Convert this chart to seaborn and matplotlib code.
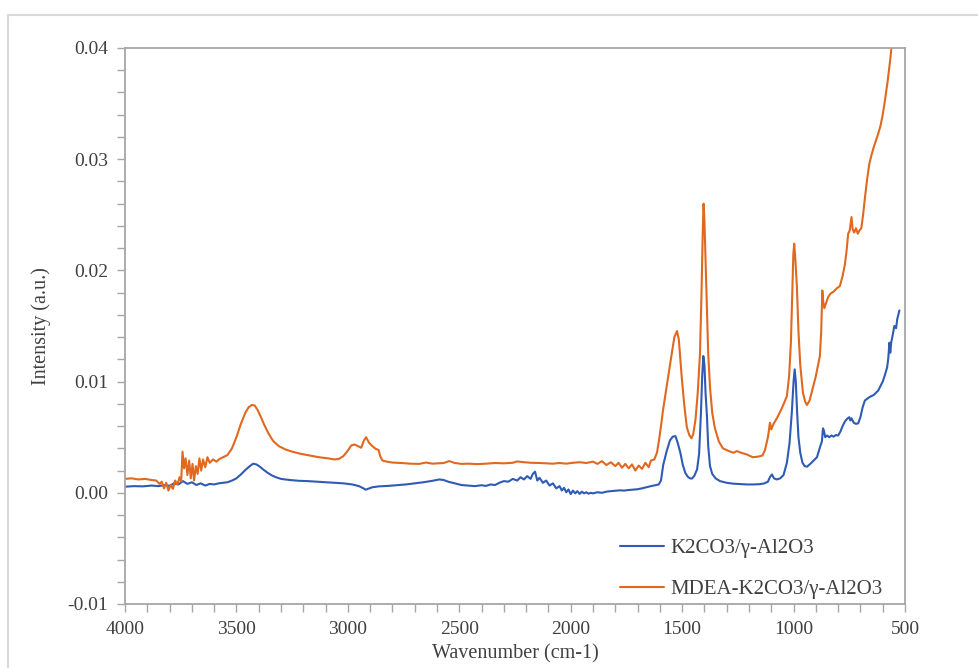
import pandas as pd
import seaborn as sns
import matplotlib
matplotlib.use("Agg")
import matplotlib.pyplot as plt
from matplotlib.patches import Rectangle
from matplotlib.ticker import MultipleLocator, FormatStrFormatter

# FTIR spectra: (wavenumber cm-1, intensity a.u.)
series_names = ["K2CO3/γ-Al2O3", "MDEA-K2CO3/γ-Al2O3"]
series_colors = ["#2F5BB5", "#E0691F"]

k2co3_spectrum = [
    (4000, 0.00055), (3960, 0.00060), (3920, 0.00058), (3880, 0.00065), (3850, 0.00060),
    (3820, 0.00070), (3800, 0.00062), (3780, 0.00085), (3760, 0.00075), (3740, 0.00105),
    (3720, 0.00080), (3700, 0.00095), (3680, 0.00070), (3660, 0.00085), (3640, 0.00065),
    (3620, 0.00080), (3600, 0.00075), (3580, 0.00085), (3560, 0.00090), (3540, 0.00095),
    (3520, 0.00110), (3500, 0.00130), (3480, 0.00165), (3460, 0.00205), (3440, 0.00240),
    (3425, 0.00262), (3410, 0.00255), (3395, 0.00235), (3380, 0.00210), (3360, 0.00180),
    (3340, 0.00155), (3320, 0.00138), (3300, 0.00125), (3260, 0.00115), (3220, 0.00108),
    (3180, 0.00105), (3140, 0.00100), (3100, 0.00095), (3060, 0.00090), (3020, 0.00085),
    (2980, 0.00075), (2950, 0.00060), (2930, 0.00040), (2920, 0.00028), (2910, 0.00035),
    (2890, 0.00050), (2860, 0.00058), (2820, 0.00062), (2780, 0.00068), (2740, 0.00075),
    (2700, 0.00085), (2660, 0.00095), (2620, 0.00108), (2590, 0.00120), (2570, 0.00115),
    (2550, 0.00100), (2520, 0.00085), (2490, 0.00070), (2460, 0.00065), (2430, 0.00060),
    (2400, 0.00068), (2380, 0.00062), (2360, 0.00075), (2340, 0.00070), (2320, 0.00090),
    (2300, 0.00105), (2280, 0.00100), (2260, 0.00125), (2240, 0.00110), (2225, 0.00140),
    (2210, 0.00120), (2195, 0.00150), (2180, 0.00125), (2170, 0.00170), (2160, 0.00190),
    (2150, 0.00110), (2140, 0.00135), (2125, 0.00090), (2110, 0.00110), (2095, 0.00065),
    (2080, 0.00085), (2065, 0.00040), (2050, 0.00060), (2040, 0.00020), (2030, 0.00045),
    (2020, 0.00005), (2010, 0.00030), (2000, -0.00012), (1990, 0.00020), (1980, -0.00005),
    (1970, 0.00015), (1960, -0.00010), (1950, 0.00010), (1940, -0.00005), (1930, 0.00005),
    (1920, -0.00008), (1910, 0.00000), (1900, -0.00005), (1880, 0.00005), (1860, 0.00000),
    (1840, 0.00010), (1820, 0.00015), (1800, 0.00018), (1780, 0.00022), (1760, 0.00020),
    (1740, 0.00025), (1720, 0.00028), (1700, 0.00032), (1680, 0.00040), (1660, 0.00050),
    (1640, 0.00060), (1620, 0.00068), (1605, 0.00075), (1595, 0.00110), (1585, 0.00250),
    (1570, 0.00370), (1555, 0.00470), (1542, 0.00505), (1530, 0.00510), (1520, 0.00450),
    (1508, 0.00360), (1497, 0.00250), (1486, 0.00180), (1475, 0.00145), (1465, 0.00130),
    (1456, 0.00128), (1446, 0.00150), (1433, 0.00210), (1424, 0.00350), (1416, 0.00700),
    (1410, 0.01050), (1405, 0.01230), (1400, 0.01150), (1395, 0.00900), (1389, 0.00700),
    (1383, 0.00420), (1375, 0.00240), (1365, 0.00170), (1350, 0.00130), (1330, 0.00105),
    (1300, 0.00090), (1270, 0.00082), (1240, 0.00078), (1210, 0.00075), (1180, 0.00075),
    (1150, 0.00078), (1130, 0.00085), (1115, 0.00100), (1105, 0.00145), (1097, 0.00165),
    (1088, 0.00130), (1075, 0.00120), (1060, 0.00130), (1045, 0.00160), (1030, 0.00270),
    (1018, 0.00450), (1008, 0.00720), (1000, 0.01000), (995, 0.01110), (990, 0.01000),
    (984, 0.00720), (978, 0.00500), (970, 0.00360), (960, 0.00270), (950, 0.00240),
    (940, 0.00235), (925, 0.00260), (910, 0.00290), (895, 0.00320), (880, 0.00420),
    (873, 0.00460), (868, 0.00580), (864, 0.00560), (858, 0.00500), (850, 0.00515),
    (840, 0.00500), (830, 0.00515), (820, 0.00505), (810, 0.00520), (800, 0.00515),
    (790, 0.00550), (780, 0.00600), (770, 0.00640), (760, 0.00665), (750, 0.00680),
    (745, 0.00650), (740, 0.00670), (730, 0.00630), (720, 0.00620), (710, 0.00625),
    (700, 0.00680), (690, 0.00770), (680, 0.00830), (670, 0.00845), (660, 0.00860),
    (650, 0.00870), (640, 0.00880), (630, 0.00900), (620, 0.00920), (610, 0.00960),
    (600, 0.01000), (590, 0.01060), (580, 0.01130), (575, 0.01210), (570, 0.01350),
    (566, 0.01260), (562, 0.01350), (555, 0.01420), (548, 0.01500), (540, 0.01480),
    (535, 0.01560), (530, 0.01600), (525, 0.01640),
]

mdea_spectrum = [
    (4000, 0.00125), (3970, 0.00130), (3940, 0.00120), (3910, 0.00125), (3880, 0.00115),
    (3860, 0.00110), (3845, 0.00080), (3835, 0.00100), (3825, 0.00040), (3815, 0.00090),
    (3805, 0.00020), (3795, 0.00070), (3785, 0.00035), (3775, 0.00110), (3765, 0.00075),
    (3755, 0.00140), (3748, 0.00100), (3742, 0.00370), (3735, 0.00220), (3728, 0.00310),
    (3720, 0.00160), (3712, 0.00290), (3705, 0.00130), (3697, 0.00260), (3690, 0.00110),
    (3682, 0.00240), (3674, 0.00170), (3666, 0.00310), (3658, 0.00200), (3650, 0.00300),
    (3640, 0.00230), (3630, 0.00320), (3620, 0.00270), (3605, 0.00300), (3590, 0.00280),
    (3575, 0.00305), (3560, 0.00320), (3540, 0.00340), (3520, 0.00400), (3500, 0.00500),
    (3480, 0.00620), (3460, 0.00720), (3445, 0.00770), (3430, 0.00790), (3418, 0.00785),
    (3405, 0.00745), (3390, 0.00680), (3375, 0.00610), (3355, 0.00530), (3335, 0.00465),
    (3310, 0.00420), (3280, 0.00390), (3250, 0.00370), (3210, 0.00350), (3170, 0.00335),
    (3130, 0.00320), (3090, 0.00310), (3060, 0.00300), (3040, 0.00305), (3020, 0.00330),
    (3000, 0.00380), (2985, 0.00425), (2970, 0.00435), (2955, 0.00420), (2940, 0.00405),
    (2928, 0.00470), (2918, 0.00500), (2905, 0.00450), (2890, 0.00420), (2875, 0.00395),
    (2862, 0.00385), (2855, 0.00330), (2845, 0.00290), (2825, 0.00280), (2800, 0.00272),
    (2760, 0.00268), (2720, 0.00262), (2680, 0.00260), (2650, 0.00272), (2620, 0.00262),
    (2570, 0.00268), (2545, 0.00285), (2520, 0.00268), (2490, 0.00260), (2460, 0.00262),
    (2420, 0.00258), (2380, 0.00262), (2340, 0.00268), (2300, 0.00265), (2260, 0.00270),
    (2240, 0.00282), (2215, 0.00276), (2180, 0.00270), (2140, 0.00268), (2110, 0.00265),
    (2080, 0.00262), (2050, 0.00268), (2020, 0.00262), (1990, 0.00270), (1960, 0.00275),
    (1930, 0.00268), (1900, 0.00280), (1880, 0.00260), (1860, 0.00285), (1840, 0.00250),
    (1820, 0.00275), (1800, 0.00240), (1785, 0.00270), (1770, 0.00225), (1755, 0.00260),
    (1740, 0.00220), (1725, 0.00255), (1710, 0.00200), (1695, 0.00245), (1680, 0.00215),
    (1665, 0.00270), (1650, 0.00230), (1640, 0.00290), (1625, 0.00300), (1613, 0.00360),
    (1604, 0.00470), (1595, 0.00600), (1586, 0.00740), (1577, 0.00860), (1560, 0.01080),
    (1546, 0.01260), (1535, 0.01400), (1523, 0.01455), (1515, 0.01380), (1508, 0.01200),
    (1501, 0.01020), (1490, 0.00780), (1479, 0.00590), (1468, 0.00520), (1458, 0.00490),
    (1450, 0.00530), (1440, 0.00660), (1430, 0.00900), (1420, 0.01250), (1413, 0.01800),
    (1408, 0.02300), (1404, 0.02600), (1400, 0.02450), (1395, 0.02100), (1389, 0.01700),
    (1383, 0.01250), (1375, 0.00950), (1365, 0.00720), (1353, 0.00580), (1335, 0.00460),
    (1317, 0.00400), (1290, 0.00375), (1270, 0.00360), (1254, 0.00375), (1235, 0.00360),
    (1210, 0.00345), (1183, 0.00320), (1160, 0.00325), (1140, 0.00335), (1129, 0.00380),
    (1115, 0.00500), (1106, 0.00630), (1100, 0.00570), (1090, 0.00620), (1075, 0.00670),
    (1055, 0.00750), (1040, 0.00820), (1030, 0.00870), (1020, 0.01050), (1012, 0.01350),
    (1006, 0.01800), (1001, 0.02150), (997, 0.02240), (992, 0.02100), (985, 0.01850),
    (978, 0.01450), (970, 0.01150), (958, 0.00900), (948, 0.00820), (940, 0.00790),
    (928, 0.00830), (913, 0.00950), (900, 0.01050), (890, 0.01150), (882, 0.01230),
    (876, 0.01450), (871, 0.01820), (867, 0.01720), (862, 0.01660), (855, 0.01700),
    (845, 0.01760), (835, 0.01790), (820, 0.01810), (805, 0.01840), (792, 0.01860),
    (780, 0.01950), (770, 0.02050), (762, 0.02180), (755, 0.02330), (748, 0.02360),
    (740, 0.02480), (735, 0.02370), (728, 0.02340), (720, 0.02380), (712, 0.02330),
    (704, 0.02360), (696, 0.02380), (688, 0.02500), (680, 0.02650), (670, 0.02820),
    (660, 0.02960), (650, 0.03040), (640, 0.03110), (630, 0.03170), (620, 0.03230),
    (610, 0.03300), (600, 0.03400), (592, 0.03500), (585, 0.03600), (578, 0.03700),
    (572, 0.03800), (566, 0.03900), (560, 0.04020),
]

frames = []
for name, spectrum in zip(series_names, [k2co3_spectrum, mdea_spectrum]):
    wn, inten = zip(*spectrum)
    frames.append(pd.DataFrame({"Wavenumber": wn, "Intensity": inten, "Sample": name}))
df = pd.concat(frames, ignore_index=True)

sns.set_style("white")
plt.rcParams["font.family"] = ["Liberation Serif", "DejaVu Serif"]

fig = plt.figure(figsize=(9.79, 6.68), dpi=100)
ax = fig.add_axes([125 / 979, 1 - 604 / 668, 780 / 979, 556 / 668])

sns.lineplot(data=df, x="Wavenumber", y="Intensity", hue="Sample",
             hue_order=series_names, palette=series_colors,
             estimator=None, sort=False, linewidth=1.5, ax=ax)

ax.set_xlim(4000, 500)
ax.set_ylim(-0.01, 0.04)
ax.xaxis.set_major_locator(MultipleLocator(500))
ax.xaxis.set_minor_locator(MultipleLocator(100))
ax.yaxis.set_major_locator(MultipleLocator(0.01))
ax.yaxis.set_minor_locator(MultipleLocator(0.002))
ax.yaxis.set_major_formatter(FormatStrFormatter("%.2f"))

axis_gray = "#A6A6A6"
text_gray = "#404040"
for side in ["left", "right", "top", "bottom"]:
    ax.spines[side].set_visible(True)
    ax.spines[side].set_color(axis_gray)
    ax.spines[side].set_linewidth(1.3)

ax.tick_params(axis="both", which="both", direction="out", length=6,
               width=1.0, color=axis_gray, labelcolor=text_gray,
               left=True, bottom=True, right=False, top=False)
ax.tick_params(axis="both", which="major", labelsize=14, pad=6)

ax.set_xlabel("Wavenumber (cm-1)", fontsize=14.5, color=text_gray, labelpad=5)
ax.set_ylabel("Intensity (a.u.)", fontsize=14.5, color=text_gray, labelpad=12)

handles, labels = ax.get_legend_handles_labels()
ax.legend(handles, labels, loc="lower right", bbox_to_anchor=(0.99, -0.018),
          frameon=False, fontsize=15, handlelength=2.1, handletextpad=0.3,
          labelspacing=1.05, borderaxespad=0.3, labelcolor=text_gray)

# chart-area border
fig.add_artist(Rectangle((8 / 979, -0.05), 1.2, 1 - 15 / 668 + 0.05,
                         transform=fig.transFigure, fill=False,
                         edgecolor="#D9D9D9", linewidth=1.5))

fig.savefig("out.png", dpi=100)
